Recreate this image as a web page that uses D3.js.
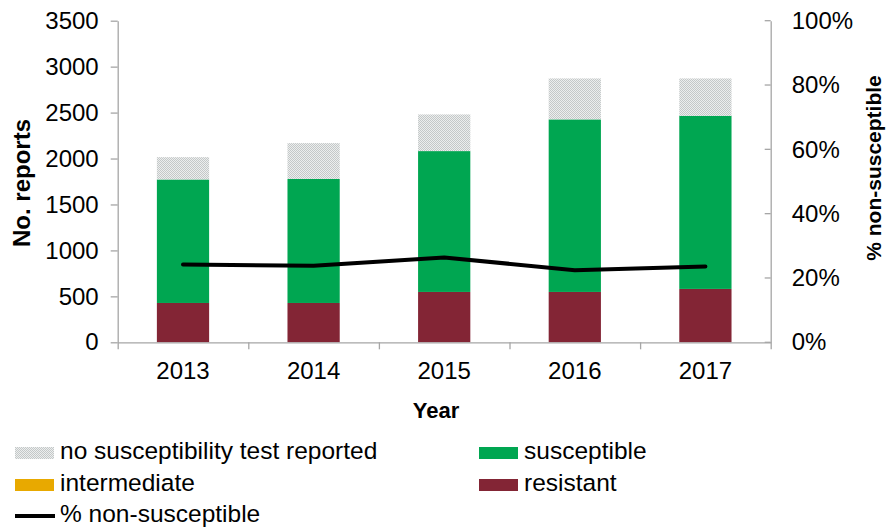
<!DOCTYPE html>
<html><head><meta charset="utf-8">
<script src="https://cdn.jsdelivr.net/npm/d3@7"></script>
<style>
body{margin:0;background:#fff;}
svg{display:block;font-family:"Liberation Sans",Arial,sans-serif;}
</style></head><body>
<svg id="c" width="888" height="528"></svg>
<script>
const years = ["2013","2014","2015","2016","2017"];
const resistant = [428, 428, 548, 548, 581];
const intermediate = [0, 0, 0, 0, 0];
const susceptible = [1344, 1351, 1533, 1878, 1884];
const noTest = [243, 389, 399, 446, 407];
const pctNonSusc = [0.242, 0.238, 0.264, 0.224, 0.236];
const leftTicks = [0,500,1000,1500,2000,2500,3000,3500];
const rightTicks = [0,0.2,0.4,0.6,0.8,1.0];

const svg = d3.select("#c");
const L = 117.7, R = 770.7, T = 20.7, B = 342.3;
const axisColor = "#a6a6a6";

const defs = svg.append("defs");
const pat = defs.append("pattern").attr("id","dots").attr("patternUnits","userSpaceOnUse")
  .attr("width",2).attr("height",2);
pat.append("rect").attr("width",2).attr("height",2).attr("fill","#eceeee");
pat.append("rect").attr("width",1).attr("height",1).attr("fill","#c4c8c8");
pat.append("rect").attr("x",1).attr("y",1).attr("width",1).attr("height",1).attr("fill","#c4c8c8");

const x = d3.scaleBand().domain(years).range([L,R]).paddingInner(0.6).paddingOuter(0.3);
const y = d3.scaleLinear().domain([0,3500]).range([B,T]);
const y2 = d3.scaleLinear().domain([0,1]).range([B,T]);
const xb = d3.scaleLinear().domain([0,years.length]).range([L,R]);

const series = [
  {key:"resistant", vals:resistant, fill:"#832535"},
  {key:"intermediate", vals:intermediate, fill:"#e8a900"},
  {key:"susceptible", vals:susceptible, fill:"#00a651"},
  {key:"noTest", vals:noTest, fill:"url(#dots)"}
];
const rows = years.map((yr,i)=>{const o={year:yr}; series.forEach(s=>o[s.key]=s.vals[i]); return o;});
const stack = d3.stack().keys(series.map(s=>s.key))(rows);

svg.append("g").selectAll("g").data(stack).join("g")
  .attr("fill",(d,i)=>series[i].fill)
  .selectAll("rect").data(d=>d).join("rect")
  .attr("x",d=>x(d.data.year)).attr("width",x.bandwidth())
  .attr("y",d=>y(d[1])).attr("height",d=>y(d[0])-y(d[1]));

// axes
function styleAxis(g){
  g.selectAll("path,line").attr("stroke",axisColor).attr("stroke-width",1.3);
  g.selectAll("text").attr("fill","#000").attr("font-size",24).attr("font-family","'Liberation Sans',Arial,sans-serif");
}
svg.append("g").attr("transform",`translate(${L},0)`)
  .call(d3.axisLeft(y).tickValues(leftTicks).tickFormat(d3.format("d")).tickSize(7).tickSizeOuter(0).tickPadding(12))
  .call(styleAxis);
svg.append("g").attr("transform",`translate(${R},0)`)
  .call(d3.axisRight(y2).tickValues(rightTicks).tickSize(0).tickSizeOuter(0).tickPadding(21).tickFormat(d3.format(".0%")))
  .call(styleAxis);
// inner ticks for right axis
svg.append("g").selectAll("line").data(rightTicks).join("line")
  .attr("x1",R-6).attr("x2",R).attr("y1",d=>y2(d)).attr("y2",d=>y2(d))
  .attr("stroke",axisColor).attr("stroke-width",1.3);
svg.append("g").attr("transform",`translate(0,${B})`)
  .call(d3.axisBottom(xb).tickValues(d3.range(years.length+1)).tickFormat("").tickSize(7).tickSizeOuter(0))
  .call(styleAxis);
svg.append("g").attr("transform",`translate(0,${B})`)
  .call(d3.axisBottom(x).tickSize(0).tickPadding(20))
  .call(g=>g.select(".domain").remove())
  .call(styleAxis);

// line
const line = d3.line().x((d,i)=>x(years[i])+x.bandwidth()/2).y(d=>y2(d));
svg.append("path").datum(pctNonSusc).attr("d",line).attr("fill","none")
  .attr("stroke","#000").attr("stroke-width",4).attr("stroke-linejoin","round").attr("stroke-linecap","round");

// titles
svg.append("text").attr("transform",`translate(30,183) rotate(-90)`).attr("text-anchor","middle")
  .attr("font-size",24).attr("font-weight","bold").text("No. reports");
svg.append("text").attr("transform",`translate(881,168) rotate(-90)`).attr("text-anchor","middle")
  .attr("font-size",21).attr("font-weight","bold").text("% non-susceptible");
svg.append("text").attr("x",436).attr("y",418).attr("text-anchor","middle")
  .attr("font-size",22).attr("font-weight","bold").text("Year");

// legend
const legendItems = [
  {label:"no susceptibility test reported", fill:"url(#dots)", col:0, row:0},
  {label:"susceptible", fill:"#00a651", col:1, row:0},
  {label:"intermediate", fill:"#e8a900", col:0, row:1},
  {label:"resistant", fill:"#832535", col:1, row:1},
  {label:"% non-susceptible", line:true, col:0, row:2}
];
const colX = [15, 479], rowY = [459, 491, 522];
const lg = svg.append("g").selectAll("g").data(legendItems).join("g")
  .attr("transform",d=>`translate(${colX[d.col]},${rowY[d.row]})`);
lg.filter(d=>!d.line).append("rect").attr("x",0).attr("y",-12).attr("width",39).attr("height",12).attr("fill",d=>d.fill);
lg.filter(d=>d.line).append("line").attr("x1",0).attr("x2",40).attr("y1",-6).attr("y2",-6).attr("stroke","#000").attr("stroke-width",4);
lg.append("text").attr("x",45).attr("y",0).attr("font-size",24.5).text(d=>d.label);
</script>
</body></html>
